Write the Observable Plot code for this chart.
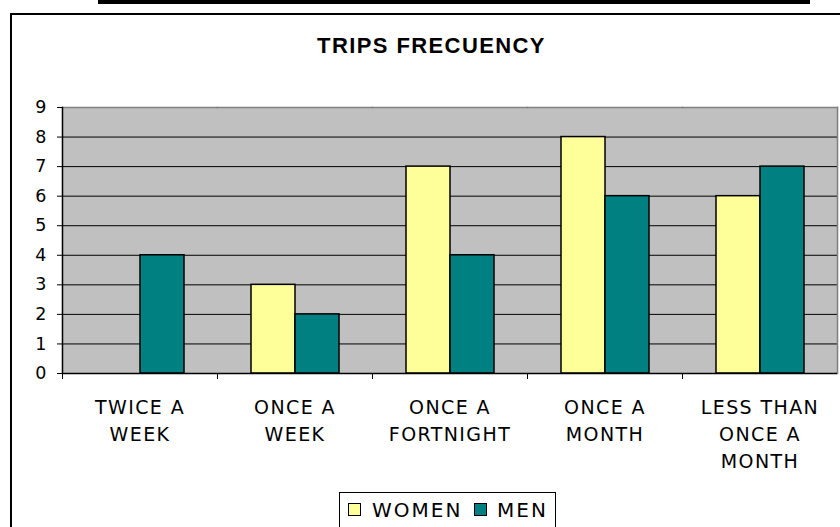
<!DOCTYPE html>
<html>
<head>
<meta charset="utf-8">
<script src="https://cdn.jsdelivr.net/npm/d3@7"></script>
<script src="https://cdn.jsdelivr.net/npm/@observablehq/plot@0.6"></script>
<style>
  html, body { margin: 0; padding: 0; background: #fff; }
  body { width: 840px; height: 527px; overflow: hidden; position: relative; font-family: "DejaVu Sans", sans-serif; }
  #topbar { position: absolute; left: 98px; top: 0; width: 712px; height: 4px; background: #000; }
  #border { position: absolute; left: 10px; top: 13px; width: 900px; height: 600px; border-left: 2px solid #000; border-top: 2px solid #000; }
  #chart { position: absolute; left: 0; top: 0; }
  #title { position: absolute; left: 131.5px; width: 600px; top: 35px; line-height: 22px; text-align: center;
           font-family: "Liberation Sans", Arial, sans-serif; font-weight: bold; font-size: 22px; letter-spacing: 1.4px; color: #000; }
  #legend { position: absolute; left: 339px; top: 492px; width: 217px; height: 45px; box-sizing: border-box; border: 1px solid #000; }
  .sw { position: absolute; width: 13px; height: 13px; box-sizing: border-box; border: 1.5px solid #000; top: 503px; }
  .lt { position: absolute; top: 500px; font-size: 20px; line-height: 20px; letter-spacing: 2px; color: #000; white-space: nowrap; }
  #chart svg .xl text, #chart svg text.xl { letter-spacing: 1.4px; }
</style>
</head>
<body>
<div id="topbar"></div>
<div id="border"></div>
<div id="chart"></div>
<div id="title">TRIPS FRECUENCY</div>
<div id="legend"></div>
<div id="legendItems"></div>
<script>
const categories = ["TWICE A WEEK", "ONCE A WEEK", "ONCE A FORTNIGHT", "ONCE A MONTH", "LESS THAN ONCE A MONTH"];
const tickLabels = ["TWICE A\nWEEK", "ONCE A\nWEEK", "ONCE A\nFORTNIGHT", "ONCE A\nMONTH", "LESS THAN\nONCE A\nMONTH"];
const series = ["WOMEN", "MEN"];
const women = [0, 3, 7, 8, 6];
const men = [4, 2, 4, 6, 7];
const yTicks = [0, 1, 2, 3, 4, 5, 6, 7, 8, 9];
const colors = ["#FFFF99", "#008080"];

const data = categories.flatMap((c, i) => [
  {category: c, series: series[0], value: women[i]},
  {category: c, series: series[1], value: men[i]}
]);

const W = 840, H = 527, mL = 62, mR = 3, mT = 107, mB = 154;
const halfStep = (W - mL - mR) / categories.length / 2;

const plot = Plot.plot({
  width: W,
  height: H,
  marginLeft: mL,
  marginRight: mR,
  marginTop: mT,
  marginBottom: mB,
  style: {fontFamily: "DejaVu Sans", background: "transparent", overflow: "visible"},
  fx: {domain: categories, padding: 0, axis: null, label: null},
  x: {domain: series, paddingInner: 0, paddingOuter: 0.76, axis: null, label: null},
  y: {domain: [0, 9], axis: null, label: null},
  color: {domain: series, range: colors},
  marks: [
    Plot.frame({fill: "#c0c0c0", stroke: "none", insetLeft: -0.6, insetRight: -0.6}),
    Plot.gridY(yTicks, {stroke: "#000", strokeOpacity: 1, strokeWidth: 1}),
    Plot.frame({anchor: "top", stroke: "#808080", strokeWidth: 1.5}),
    Plot.frame({anchor: "right", stroke: "#808080", strokeWidth: 1.5, facetAnchor: "right"}),
    Plot.barY(data, {fx: "category", x: "series", y: "value", fill: "series", stroke: "#000", strokeWidth: 1.5}),
    Plot.ruleY([0], {stroke: "#000", strokeWidth: 1.5}),
    Plot.axisFx({anchor: "bottom", tickSize: 6, tickFormat: () => "", dx: -halfStep, color: "#000", label: null}),
    Plot.frame({anchor: "left", stroke: "#000", strokeWidth: 1.5, facetAnchor: "left"}),
    Plot.axisY(yTicks, {anchor: "left", tickSize: 5, tickPadding: 11, fontSize: 17.5, color: "#000", tickFormat: d => String(d), label: null}),
    Plot.text(categories, {
      fx: d => d,
      text: d => tickLabels[categories.indexOf(d)],
      frameAnchor: "bottom",
      lineAnchor: "top",
      dy: 22,
      lineHeight: 1.4,
      fontSize: 19,
      fill: "#000",
      className: "xl"
    })
  ]
});
document.getElementById("chart").appendChild(plot);

// legend
const items = document.getElementById("legendItems");
const swLeft = [348, 474];
const txLeft = [372, 497];
series.forEach((s, i) => {
  const sw = document.createElement("div");
  sw.className = "sw";
  sw.style.left = swLeft[i] + "px";
  sw.style.background = colors[i];
  items.appendChild(sw);
  const t = document.createElement("div");
  t.className = "lt";
  t.style.left = txLeft[i] + "px";
  t.textContent = s;
  items.appendChild(t);
});
</script>
</body>
</html>
